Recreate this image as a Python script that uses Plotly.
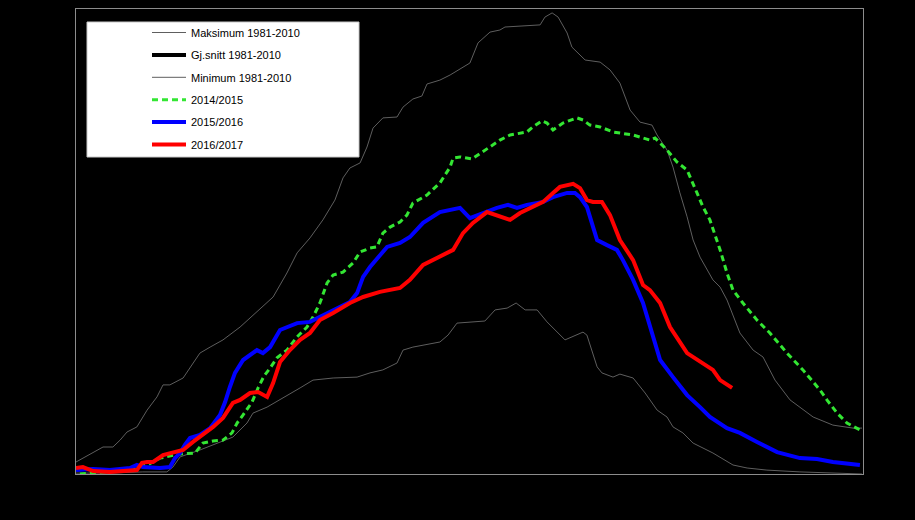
import plotly.graph_objects as go

# Day of season (x) and value (y)
max_day = [0, 5.7, 9.0, 12.3, 14.7, 17.0, 20.3, 23.7, 27.0, 29.0, 31.3, 35.7, 41.3, 44.7, 49.0, 54.7, 62.3, 65.7,
           70.3, 73.7, 78.0, 82.3, 86.3, 89.0, 91.3, 94.7, 97.0, 99.0, 102.3, 107.0, 109.0, 112.3, 115.3, 117.0,
           121.3, 124.7, 131.3, 134.0, 138.0, 141.3, 143.0, 154.7, 156.3, 158.7, 160.7, 163.7, 165.3, 167.3,
           169.7, 174.7, 178.0, 181.3, 184.7, 188.0, 192.0, 193.7, 197.0, 199.0, 201.3, 203.7, 205.7, 208.0,
           212.3, 214.7, 217.0, 221.3, 225.7, 229.0, 233.0, 238.0, 245.7, 252.3, 259.0, 262.0]
max_val = [4.0, 7.3, 9.0, 9.0, 11.3, 14.0, 15.7, 21.3, 25.7, 29.7, 29.7, 32.0, 40.3, 42.3, 44.7, 49.0, 55.7, 59.0,
           67.0, 73.7, 78.7, 84.7, 91.3, 98.7, 102.0, 103.7, 109.0, 115.3, 118.7, 119.0, 122.3, 125.0, 126.0, 130.0,
           131.3, 133.0, 137.0, 143.7, 147.3, 148.0, 149.0, 149.7, 152.3, 153.7, 152.3, 147.0, 142.3, 140.3,
           138.0, 137.3, 134.7, 130.3, 121.3, 117.3, 116.3, 113.0, 108.0, 102.3, 93.7, 85.7, 78.0, 72.3,
           64.7, 62.3, 58.0, 47.0, 41.3, 39.0, 31.3, 24.7, 19.0, 16.3, 15.3, 15.3]

min_day = [0, 11.3, 22.3, 30.3, 32.3, 34.7, 41.3, 45.7, 52.3, 57.0, 59.0, 63.7, 69.0, 74.7, 79.0, 85.7, 93.7, 98.0,
           102.3, 107.0, 109.0, 112.3, 121.3, 124.0, 127.0, 136.3, 139.7, 143.7, 146.7, 149.7, 153.7, 157.0,
           163.0, 167.0, 169.0, 170.3, 173.7, 175.3, 179.0, 181.3, 185.7, 189.7, 193.7, 197.0, 199.0, 202.3,
           205.7, 212.3, 219.0, 223.7, 230.3, 241.3, 252.3, 262.0]
min_val = [0.3, 0.3, 0.7, 0.7, 2.3, 5.7, 8.0, 9.7, 12.3, 17.0, 20.3, 22.3, 25.3, 28.7, 31.3, 32.0, 32.3, 33.7,
           34.7, 37.0, 41.3, 42.3, 44.0, 46.3, 50.3, 51.0, 54.7, 55.3, 57.0, 54.7, 54.7, 50.7,
           44.7, 46.3, 47.3, 46.3, 35.7, 33.7, 32.3, 33.3, 32.0, 27.0, 21.3, 19.0, 15.7, 13.7,
           10.3, 7.0, 3.0, 2.0, 1.3, 0.7, 0.3, 0.0]

s1415_day = [1.3, 11.3, 17.0, 20.3, 23.7, 28.0, 31.3, 34.7, 39.7, 42.3, 45.7, 49.0, 52.0, 53.7, 55.7, 58.7, 60.7,
             62.7, 64.7, 67.0, 70.3, 73.7, 77.0, 79.0, 81.3, 83.7, 85.7, 89.0, 92.3, 94.7, 98.0, 100.3, 102.3,
             104.7, 108.0, 110.3, 112.3, 117.0, 121.3, 124.7, 125.7, 128.0, 132.0, 135.3, 138.0, 141.3, 144.7,
             150.3, 152.3, 155.3, 157.0, 159.0, 162.3, 167.0, 169.0, 171.3, 174.7, 179.0, 185.7, 189.0, 191.3,
             193.0, 194.7, 197.0, 200.3, 203.7, 207.0, 209.0, 211.3, 214.7, 217.0, 219.0, 222.3, 227.0, 231.3,
             237.0, 242.3, 248.0, 250.3, 253.7, 257.0, 261.3]
s1415_val = [0.0, 0.7, 1.3, 2.3, 3.0, 5.3, 6.0, 6.7, 7.0, 10.3, 11.0, 11.3, 13.7, 17.0, 19.7, 24.0, 28.7,
             32.7, 35.3, 38.7, 41.3, 45.7, 49.0, 52.3, 57.0, 63.7, 66.3, 67.3, 70.3, 74.0, 75.3, 75.7, 80.3,
             82.3, 84.0, 86.3, 90.3, 93.0, 97.0, 102.3, 105.3, 105.7, 105.0, 107.3, 109.0, 111.3, 113.0,
             114.0, 115.7, 117.7, 117.0, 114.7, 117.0, 118.7, 118.0, 116.3, 115.7, 114.0, 113.0, 112.0, 111.3,
             112.0, 110.3, 108.0, 104.0, 101.3, 93.7, 89.0, 84.7, 74.7, 67.0, 61.3, 57.0, 51.3, 47.0,
             40.3, 34.7, 28.0, 24.7, 20.3, 17.0, 14.7]

s1516_day = [0, 5.7, 11.3, 18.0, 20.3, 22.3, 28.0, 31.3, 33.0, 34.7, 36.3, 38.0, 41.3, 44.7, 48.0, 49.7, 51.3,
             53.0, 55.7, 60.3, 62.3, 64.7, 68.0, 73.7, 78.0, 81.3, 85.7, 91.3, 93.7, 95.7, 98.0, 103.7, 108.0,
             111.3, 115.7, 121.3, 128.0, 131.3, 135.7, 140.3, 144.0, 147.0, 150.3, 155.7, 159.0, 163.7, 166.3,
             168.0, 170.3, 172.0, 173.7, 177.0, 180.3, 182.3, 185.7, 189.0, 191.3, 194.7, 199.0, 203.7, 208.0,
             211.3, 217.0, 221.3, 227.0, 233.7, 241.3, 247.0, 252.3, 261.3]
s1516_val = [1.3, 1.7, 1.3, 2.0, 3.0, 2.3, 2.0, 2.3, 5.3, 7.0, 9.7, 12.0, 13.0, 15.3, 19.7, 24.0, 29.0,
             33.7, 38.0, 41.3, 40.3, 42.3, 48.0, 50.3, 50.7, 52.3, 54.7, 57.3, 60.3, 65.7, 69.0, 75.7, 77.0,
             79.0, 83.7, 87.3, 88.7, 85.3, 87.0, 88.7, 89.7, 88.7, 89.7, 90.7, 92.3, 93.7, 93.7,
             92.3, 89.0, 83.7, 78.0, 76.3, 74.7, 71.3, 64.7, 57.0, 49.0, 38.0, 32.3, 26.3, 22.3,
             19.0, 15.3, 13.7, 10.7, 7.3, 5.3, 5.0, 4.0, 3.0]

s1617_day = [0, 2.3, 5.7, 11.3, 20.3, 22.0, 23.7, 25.7, 29.0, 33.7, 35.7, 39.0, 42.3, 45.7, 49.0, 52.3, 54.7,
             58.0, 60.7, 63.7, 65.7, 68.0, 71.3, 74.7, 78.0, 81.3, 85.7, 91.3, 95.7, 101.3, 108.0, 111.3, 115.7,
             121.3, 125.7, 129.0, 132.3, 137.0, 140.3, 144.7, 148.0, 151.3, 155.7, 159.0, 161.3, 165.7, 168.0,
             170.3, 172.3, 175.3, 178.0, 181.3, 185.7, 189.0, 191.3, 194.7, 198.0, 203.7, 208.0, 212.3, 214.7,
             218.7]
s1617_val = [2.0, 2.3, 1.0, 0.7, 1.3, 3.7, 4.0, 4.0, 6.3, 7.3, 8.0, 10.7, 13.0, 15.7, 18.7, 23.7, 24.7,
             27.0, 27.3, 25.7, 30.3, 37.3, 41.3, 44.7, 47.0, 51.3, 53.7, 57.0, 59.0, 60.7, 62.0, 64.7, 69.7,
             72.3, 74.7, 80.3, 83.7, 87.3, 86.3, 84.7, 87.0, 88.7, 90.7, 93.7, 95.7, 96.7, 95.3,
             91.3, 90.7, 90.7, 86.3, 78.0, 71.3, 63.0, 61.3, 57.0, 49.0, 40.3, 37.3, 34.7, 31.3,
             28.7]

names = ["Maksimum 1981-2010", "Gj.snitt 1981-2010", "Minimum 1981-2010", "2014/2015", "2015/2016", "2016/2017"]

fig = go.Figure()
fig.add_trace(go.Scatter(x=max_day, y=max_val, mode="lines", name=names[0], legendgroup="a",
                         line=dict(color="#5e5e5e", width=1)))
fig.add_trace(go.Scatter(x=[None], y=[None], mode="lines", name=names[1], legendgroup="b",
                         line=dict(color="#000000", width=4)))
fig.add_trace(go.Scatter(x=min_day, y=min_val, mode="lines", name=names[2], legendgroup="c",
                         line=dict(color="#5e5e5e", width=1)))
fig.add_trace(go.Scatter(x=s1415_day, y=s1415_val, mode="lines", name=names[3], legendgroup="d",
                         line=dict(color="#33e633", width=3, dash="6px,4px")))
fig.add_trace(go.Scatter(x=s1516_day, y=s1516_val, mode="lines", name=names[4], legendgroup="e",
                         line=dict(color="#0000ff", width=4)))
fig.add_trace(go.Scatter(x=s1617_day, y=s1617_val, mode="lines", name=names[5], legendgroup="f",
                         line=dict(color="#ff0000", width=4)))

W, H = 915, 520
L, R, T, B = 76, 52, 9, 46
pw, ph = W - L - R, H - T - B

def px2x(p):
    return (p - L) / pw

def px2y(p):
    return (H - B - p) / ph

fig.add_shape(type="rect", xref="paper", yref="paper",
              x0=px2x(87), x1=px2x(359), y0=px2y(157), y1=px2y(22),
              fillcolor="white", line=dict(color="#c8c8c8", width=1), layer="above")

fig.update_layout(
    width=W, height=H,
    margin=dict(l=L, r=R, t=T, b=B),
    paper_bgcolor="black", plot_bgcolor="black",
    showlegend=True,
    legend=dict(x=px2x(147), y=px2y(18), xanchor="left", yanchor="top",
                bgcolor="rgba(0,0,0,0)", borderwidth=0,
                font=dict(family="Liberation Sans, Arial", size=11, color="black"),
                traceorder="grouped", tracegroupgap=3.4, itemwidth=34),
    xaxis=dict(range=[0, 262.33], showgrid=False, zeroline=False, showticklabels=False,
               showline=True, mirror=True, linecolor="#8c8c8c", linewidth=1, ticks=""),
    yaxis=dict(range=[0, 155], showgrid=False, zeroline=False, showticklabels=False,
               showline=True, mirror=True, linecolor="#8c8c8c", linewidth=1, ticks=""),
)

fig.write_html("out.html")
